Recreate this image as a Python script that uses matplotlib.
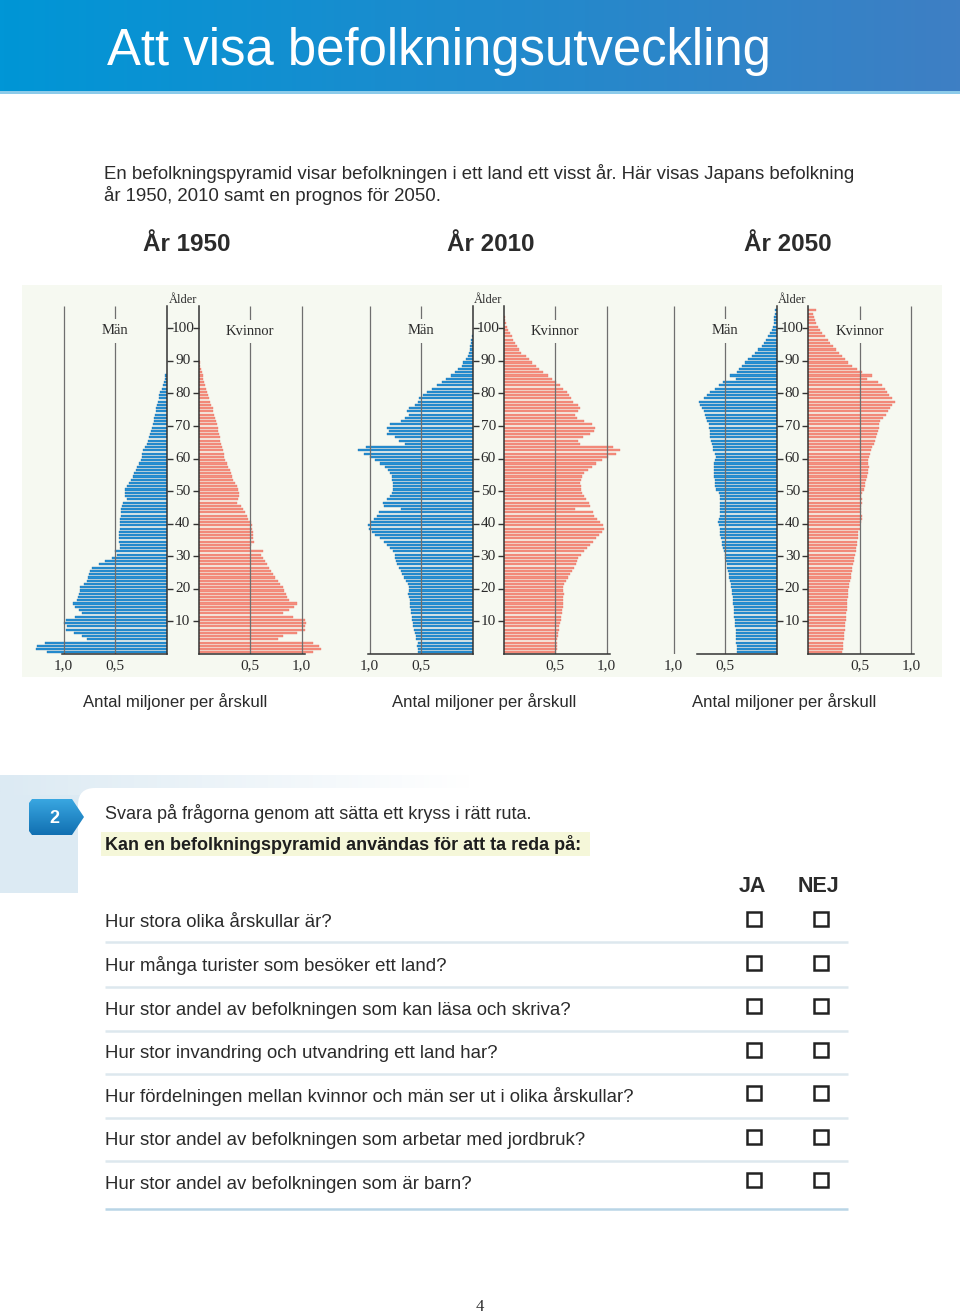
import numpy as np
import matplotlib
matplotlib.use('Agg')
import matplotlib.pyplot as plt
from matplotlib.patches import Rectangle, Polygon, FancyBboxPatch

# ---------------- data (million people per one-year age group) ----------------
panel_titles = ['År 1950', 'År 2010', 'År 2050']

men_1950 = [1.16, 1.27, 1.26, 1.18, 0.77, 0.82, 0.90, 0.98, 0.97, 1.00,
            0.98, 0.89, 0.82, 0.85, 0.89, 0.91, 0.87, 0.86, 0.85, 0.84,
            0.84, 0.80, 0.77, 0.76, 0.75, 0.74, 0.73, 0.66, 0.60, 0.53,
            0.48, 0.50, 0.45, 0.455, 0.46, 0.46, 0.46, 0.46, 0.455, 0.455,
            0.45, 0.45, 0.445, 0.44, 0.44, 0.435, 0.42, 0.39, 0.40, 0.40,
            0.40, 0.39, 0.37, 0.345, 0.33, 0.32, 0.30, 0.29, 0.27, 0.25,
            0.24, 0.235, 0.23, 0.21, 0.195, 0.18, 0.17, 0.16, 0.15, 0.14,
            0.135, 0.125, 0.12, 0.11, 0.105, 0.10, 0.09, 0.08, 0.075, 0.07,
            0.065, 0.05, 0.04, 0.03, 0.02, 0.015]
women_1950 = [1.11, 1.19, 1.17, 1.11, 0.77, 0.82, 0.95, 1.03, 1.03, 1.045,
              1.03, 0.92, 0.82, 0.88, 0.93, 0.95, 0.88, 0.86, 0.85, 0.83,
              0.82, 0.79, 0.77, 0.745, 0.72, 0.70, 0.68, 0.66, 0.64, 0.62,
              0.60, 0.625, 0.50, 0.51, 0.535, 0.53, 0.53, 0.525, 0.52, 0.515,
              0.51, 0.48, 0.465, 0.45, 0.43, 0.415, 0.375, 0.385, 0.39, 0.39,
              0.385, 0.37, 0.35, 0.335, 0.32, 0.31, 0.30, 0.285, 0.27, 0.26,
              0.25, 0.245, 0.235, 0.225, 0.215, 0.21, 0.205, 0.20, 0.19, 0.185,
              0.18, 0.17, 0.16, 0.15, 0.14, 0.135, 0.12, 0.11, 0.10, 0.09,
              0.08, 0.07, 0.06, 0.055, 0.045, 0.04, 0.03, 0.02, 0.015, 0.01]

men_2010 = [0.535, 0.535, 0.54, 0.535, 0.55, 0.55, 0.56, 0.57, 0.575, 0.58,
            0.59, 0.59, 0.60, 0.60, 0.605, 0.605, 0.61, 0.62, 0.63, 0.62,
            0.62, 0.63, 0.645, 0.67, 0.69, 0.70, 0.72, 0.735, 0.74, 0.75,
            0.75, 0.77, 0.80, 0.83, 0.865, 0.90, 0.945, 0.98, 1.01, 1.02,
            0.99, 0.96, 0.93, 0.91, 0.70, 0.86, 0.87, 0.83, 0.80, 0.78,
            0.77, 0.77, 0.77, 0.78, 0.78, 0.80, 0.82, 0.85, 0.90, 0.945,
            1.00, 1.06, 1.11, 1.04, 0.66, 0.72, 0.75, 0.83, 0.81, 0.83,
            0.80, 0.70, 0.66, 0.62, 0.64, 0.62, 0.56, 0.53, 0.52, 0.48,
            0.445, 0.40, 0.35, 0.30, 0.26, 0.21, 0.17, 0.14, 0.105, 0.09,
            0.065, 0.05, 0.04, 0.03, 0.025, 0.02, 0.015, 0.01]
women_2010 = [0.51, 0.515, 0.515, 0.515, 0.52, 0.528, 0.53, 0.535, 0.54, 0.545,
              0.555, 0.56, 0.565, 0.57, 0.575, 0.575, 0.58, 0.58, 0.585, 0.58,
              0.58, 0.59, 0.605, 0.62, 0.645, 0.66, 0.685, 0.70, 0.715, 0.725,
              0.75, 0.775, 0.805, 0.84, 0.87, 0.90, 0.93, 0.95, 0.97, 0.96,
              0.935, 0.905, 0.88, 0.865, 0.69, 0.84, 0.83, 0.80, 0.78, 0.765,
              0.755, 0.75, 0.745, 0.755, 0.765, 0.78, 0.82, 0.855, 0.90, 0.95,
              1.01, 1.09, 1.125, 1.06, 0.74, 0.72, 0.77, 0.84, 0.875, 0.885,
              0.855, 0.775, 0.715, 0.69, 0.725, 0.74, 0.72, 0.675, 0.65, 0.635,
              0.61, 0.58, 0.545, 0.505, 0.47, 0.43, 0.385, 0.345, 0.31, 0.27,
              0.25, 0.22, 0.17, 0.15, 0.13, 0.11, 0.095, 0.08, 0.06, 0.045,
              0.03, 0.02, 0.015, 0.01]

men_2050 = [0.385, 0.39, 0.39, 0.392, 0.395, 0.398, 0.40, 0.40, 0.403, 0.405,
            0.408, 0.41, 0.412, 0.415, 0.418, 0.42, 0.424, 0.426, 0.43, 0.436,
            0.44, 0.445, 0.45, 0.46, 0.465, 0.47, 0.48, 0.485, 0.49, 0.50,
            0.505, 0.515, 0.52, 0.53, 0.535, 0.54, 0.55, 0.55, 0.555, 0.56,
            0.57, 0.565, 0.555, 0.55, 0.55, 0.555, 0.555, 0.55, 0.555, 0.565,
            0.59, 0.595, 0.60, 0.60, 0.605, 0.605, 0.605, 0.61, 0.605, 0.60,
            0.59, 0.60, 0.615, 0.62, 0.63, 0.64, 0.645, 0.645, 0.65, 0.66,
            0.66, 0.68, 0.685, 0.695, 0.71, 0.725, 0.74, 0.75, 0.71, 0.68,
            0.645, 0.60, 0.56, 0.52, 0.40, 0.45, 0.39, 0.37, 0.34, 0.305,
            0.275, 0.24, 0.21, 0.18, 0.145, 0.12, 0.10, 0.08, 0.065, 0.05,
            0.04, 0.03, 0.026, 0.022, 0.016, 0.013]
women_2050 = [0.33, 0.335, 0.337, 0.34, 0.345, 0.35, 0.352, 0.355, 0.358, 0.36,
              0.365, 0.37, 0.372, 0.375, 0.378, 0.38, 0.383, 0.385, 0.39, 0.392,
              0.395, 0.40, 0.405, 0.415, 0.42, 0.425, 0.43, 0.44, 0.445, 0.45,
              0.46, 0.465, 0.47, 0.475, 0.48, 0.485, 0.488, 0.49, 0.50, 0.505,
              0.515, 0.525, 0.52, 0.515, 0.51, 0.515, 0.52, 0.52, 0.51, 0.52,
              0.54, 0.55, 0.555, 0.565, 0.57, 0.58, 0.585, 0.59, 0.585, 0.58,
              0.59, 0.60, 0.61, 0.625, 0.64, 0.65, 0.66, 0.67, 0.675, 0.685,
              0.69, 0.70, 0.73, 0.76, 0.78, 0.80, 0.82, 0.84, 0.815, 0.79,
              0.77, 0.75, 0.72, 0.68, 0.57, 0.625, 0.52, 0.475, 0.43, 0.39,
              0.36, 0.33, 0.30, 0.27, 0.24, 0.215, 0.19, 0.165, 0.14, 0.12,
              0.10, 0.08, 0.065, 0.055, 0.05, 0.075]

men_series = [men_1950, men_2010, men_2050]
women_series = [women_1950, women_2010, women_2050]

age_ticks = [10, 20, 30, 40, 50, 60, 70, 80, 90, 100]
x_ticks = [0.5, 1.0]
x_tick_labels = ['0,5', '1,0']
male_bottom_extent = [1.02, 1.02, 0.77]

title_text = 'Att visa befolkningsutveckling'
intro_lines = ['En befolkningspyramid visar befolkningen i ett land ett visst år. Här visas Japans befolkning',
               'år 1950, 2010 samt en prognos för 2050.']
x_label = 'Antal miljoner per årskull'
task_line = 'Svara på frågorna genom att sätta ett kryss i rätt ruta.'
task_bold = 'Kan en befolkningspyramid användas för att ta reda på:'
questions = ['Hur stora olika årskullar är?',
             'Hur många turister som besöker ett land?',
             'Hur stor andel av befolkningen som kan läsa och skriva?',
             'Hur stor invandring och utvandring ett land har?',
             'Hur fördelningen mellan kvinnor och män ser ut i olika årskullar?',
             'Hur stor andel av befolkningen som arbetar med jordbruk?',
             'Hur stor andel av befolkningen som är barn?']

# ---------------- page ----------------
W, H = 960, 1313
fig = plt.figure(figsize=(9.6, 13.13), dpi=100)
fig.patch.set_facecolor('white')
page = fig.add_axes([0, 0, 1, 1])
page.set_xlim(0, W)
page.set_ylim(H, 0)
page.axis('off')

SANS = ['Liberation Sans', 'DejaVu Sans']
SERIF = ['Liberation Serif', 'DejaVu Serif']
TXT = '#2b2b2b'

# header with gradient
grad = np.linspace(0, 1, 256)[None, :]
c0 = np.array([0, 150, 214]) / 255
c1 = np.array([62, 127, 196]) / 255
img = (c0[None, None, :] * (1 - grad[..., None]) + c1[None, None, :] * grad[..., None])
page.imshow(img, extent=[0, W, 91, 0], aspect='auto', zorder=1)
page.add_patch(Rectangle((0, 91), W, 2.5, color='#8ccbea', zorder=1, lw=0))
page.text(107, 65, title_text, color='white', fontsize=36.6, family=SANS, va='baseline', zorder=2)

# intro text
page.text(104, 179, intro_lines[0], fontsize=13.4, family=SANS, color=TXT, va='baseline')
page.text(104, 201, intro_lines[1], fontsize=13.4, family=SANS, color=TXT, va='baseline')

# pyramid panel background
BG = '#f6f9f1'
page.add_patch(Rectangle((22, 285), 920, 392, color=BG, lw=0, zorder=0.5))

# ---------------- pyramids ----------------
SX = 103.0      # px per million
SY = 3.257      # px per year of age
BASE = 654      # px of age 0
YTOP = 107.5
male_axis_px = [166.7, 472.7, 776.7]
female_axis_px = [198.7, 503.7, 808.0]
title_px = [187, 491, 788]
label_px = [175, 484, 784]
MALE_C, MALE_E = '#2590d4', '#1c6ca6'
FEM_C, FEM_E = '#f58e7f', '#e67262'
XMAX = 1.32


def add_px_axes(x0, x1, ytop, ybot):
    return fig.add_axes([x0 / W, 1 - ybot / H, (x1 - x0) / W, (ybot - ytop) / H])


for i in range(3):
    xm, xf = male_axis_px[i], female_axis_px[i]
    ytop_px = BASE - YTOP * SY
    axm = add_px_axes(xm - XMAX * SX, xm, ytop_px, BASE)
    axf = add_px_axes(xf, xf + XMAX * SX, ytop_px, BASE)
    gap_units = (xf - xm) / SX
    for ax, vals, col, ec, side in [(axm, men_series[i], MALE_C, MALE_E, 'm'),
                                    (axf, women_series[i], FEM_C, FEM_E, 'f')]:
        ax.set_facecolor('none')
        ages = np.arange(len(vals))
        ax.barh(ages + 0.5, vals, height=0.64, color=col, edgecolor=ec,
                linewidth=0.25, zorder=2)
        ax.set_ylim(0, YTOP)
        if side == 'm':
            ax.set_xlim(XMAX, 0)
            ax.spines['left'].set_visible(False)
            ax.spines['right'].set_bounds(0, 107)
            ax.spines['bottom'].set_bounds(0, male_bottom_extent[i])
            ax.yaxis.tick_right()
            keep = 'right'
        else:
            ax.set_xlim(0, XMAX)
            ax.spines['right'].set_visible(False)
            ax.spines['left'].set_bounds(0, 107)
            ax.spines['bottom'].set_bounds(0, 1.03)
            ax.yaxis.tick_left()
            keep = 'left'
        ax.spines['top'].set_visible(False)
        for s in [keep, 'bottom']:
            ax.spines[s].set_color('#333333')
            ax.spines[s].set_linewidth(1.1)
        ax.set_yticks(age_ticks)
        ax.set_yticklabels([])
        ax.tick_params(axis='y', direction='out', length=4, width=1.0, color='#333333')
        ax.set_xticks([])
        ax.vlines(x_ticks, 0, 107, color='#6f6f6f', lw=0.9, zorder=3)
        for v, lab in zip(x_ticks, x_tick_labels):
            ax.text(v, -3.7, lab, fontsize=11, family=SERIF, color=TXT,
                    ha='center', va='center', clip_on=False)
        for sp in ax.spines.values():
            sp.set_zorder(4)
    # age labels between the axes
    for a in age_ticks:
        axm.text(-gap_units / 2, a, str(a), fontsize=11, family=SERIF, color=TXT,
                 ha='center', va='center', clip_on=False)
    axm.text(-gap_units / 2, 108.7, 'Ålder', fontsize=9, family=SERIF, color=TXT,
             ha='center', va='center', clip_on=False)
    axm.text(0.5, 99.2, 'Män', fontsize=10.5, family=SERIF, color=TXT, ha='center',
             va='center', zorder=5,
             bbox=dict(boxstyle='square,pad=0.35', fc=BG, ec='none'))
    axf.text(0.5, 98.9, 'Kvinnor', fontsize=10.5, family=SERIF, color=TXT, ha='center',
             va='center', zorder=5,
             bbox=dict(boxstyle='square,pad=0.35', fc=BG, ec='none'))
    page.text(title_px[i], 251, panel_titles[i], fontsize=17.5, weight='bold',
              family=SANS, color=TXT, ha='center', va='baseline')
    page.text(label_px[i], 707, x_label, fontsize=12.1, family=SANS, color=TXT,
              ha='center', va='baseline')

# ---------------- question section ----------------
LB = '#dceaf3'
page.add_patch(Rectangle((0, 775), 80, 118, color=LB, lw=0, zorder=0.5))
band = np.linspace(0, 1, 256)[None, :]
cb = np.array([220, 234, 243]) / 255
band_img = cb[None, None, :] * (1 - band[..., None]) + np.ones(3)[None, None, :] * band[..., None]
page.imshow(band_img, extent=[0, 470, 795, 775], aspect='auto', zorder=0.6)
page.add_patch(FancyBboxPatch((95, 805), 900, 300, boxstyle='round,pad=17,rounding_size=17',
                              fc='white', ec='none', zorder=0.7))

# badge "2"
badge = Polygon([(32, 799), (72, 799), (84, 817), (72, 835), (32, 835), (29, 831), (29, 803)],
                closed=True, fc='none', ec='none', zorder=1)
page.add_patch(badge)
bg_grad = np.linspace(0, 1, 64)[:, None]
ct = np.array([58, 168, 226]) / 255
cbtm = np.array([16, 110, 176]) / 255
bimg = ct[None, None, :] * (1 - bg_grad[..., None]) + cbtm[None, None, :] * bg_grad[..., None]
bimg = np.repeat(bimg, 2, axis=1)
im = page.imshow(bimg, extent=[28, 86, 836, 798], aspect='auto', zorder=1.1)
im.set_clip_path(badge)
page.text(54, 823, '2', color='white', fontsize=13, weight='bold', family=SANS,
          ha='center', va='baseline', zorder=2)

page.text(105, 819, task_line, fontsize=13.0, family=SANS, color=TXT, va='baseline', zorder=2)
page.add_patch(Rectangle((101, 832), 489, 24, color='#f5f7d9', lw=0, zorder=1))
page.text(105, 850, task_bold, fontsize=13.0, weight='bold', family=SANS, color='#1e1e1e',
          va='baseline', zorder=2)

page.text(752, 892, 'JA', fontsize=15.5, weight='bold', family=SANS, color=TXT,
          ha='center', va='baseline', zorder=2)
page.text(818, 892, 'NEJ', fontsize=15.5, weight='bold', family=SANS, color=TXT,
          ha='center', va='baseline', zorder=2)

q_base = [927, 971, 1015, 1058, 1102, 1145, 1189]
box_y = [919, 963, 1006, 1050, 1093, 1137, 1180]
sep_y = [942, 987, 1031, 1074, 1118, 1161, 1209]
for k, q in enumerate(questions):
    page.text(105, q_base[k], q, fontsize=13.4, family=SANS, color=TXT, va='baseline', zorder=2)
    for bx in (754, 821):
        page.add_patch(Rectangle((bx - 7, box_y[k] - 7), 14, 14, fc='none', ec='#222222',
                                 lw=1.8, zorder=2))
    sep_col = '#b9d5e6' if k == len(questions) - 1 else '#dde8ee'
    page.plot([105, 848], [sep_y[k], sep_y[k]], color=sep_col, lw=1.8, zorder=1.5,
              solid_capstyle='butt')

page.text(480, 1311, '4', fontsize=12, family=SERIF, color=TXT, ha='center', va='baseline')

fig.savefig('out.png', dpi=100, facecolor='white')
